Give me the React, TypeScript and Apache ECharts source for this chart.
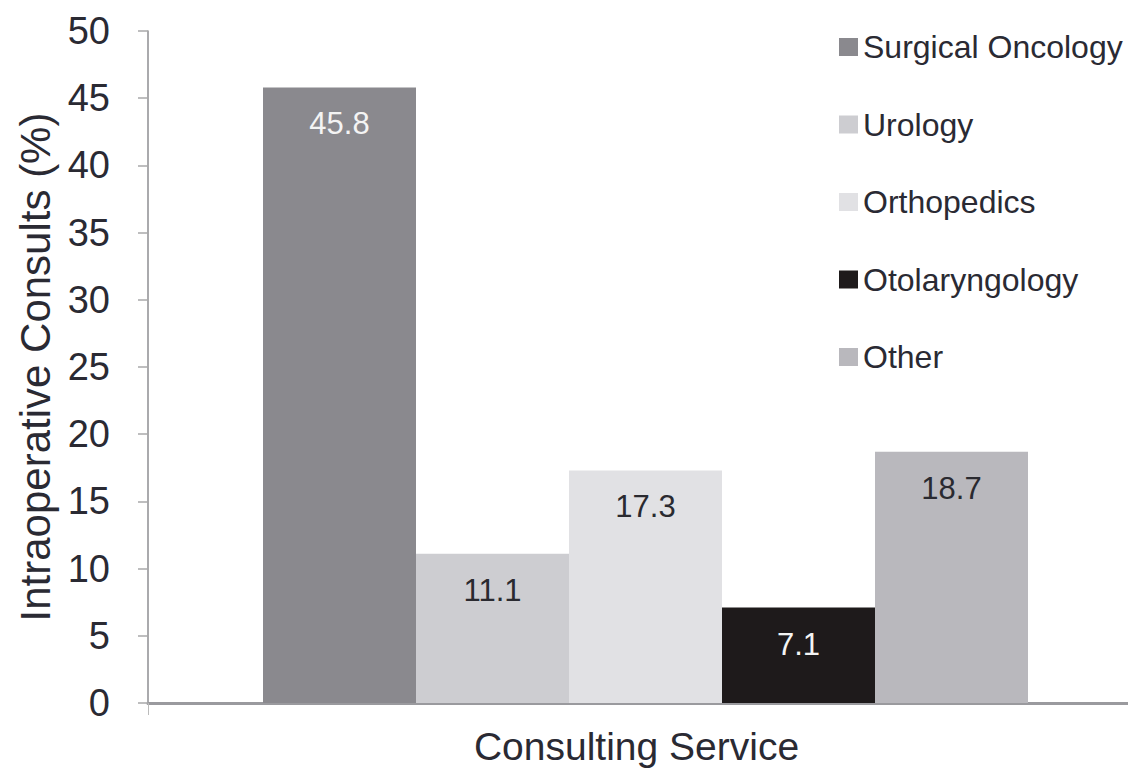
import React, { useEffect, useRef } from "react";
import * as echarts from "echarts";

const categories = ["Consulting Service"];
const seriesNames = ["Surgical Oncology", "Urology", "Orthopedics", "Otolaryngology", "Other"];
const seriesValues = [45.8, 11.1, 17.3, 7.1, 18.7];
const seriesColors = ["#8a898e", "#cdcdd1", "#e1e1e4", "#1e1a1b", "#b9b8bd"];
const labelColors = ["#f4f4f4", "#2a2a30", "#2a2a30", "#f4f4f4", "#2a2a30"];
const yTicks = [0, 5, 10, 15, 20, 25, 30, 35, 40, 45, 50];

const FONT = "Liberation Sans, Arial, sans-serif";

export default function App() {
  const ref = useRef<HTMLDivElement>(null);
  useEffect(() => {
    if (!ref.current) return;
    const chart = echarts.init(ref.current, undefined, { renderer: "svg" });
    chart.setOption({
      animation: false,
      backgroundColor: "#ffffff",
      textStyle: { fontFamily: FONT },
      grid: { left: 148, top: 31, bottom: 72, right: -15, containLabel: false, outerBoundsMode: "none" },
      legend: {
        orient: "vertical",
        left: 834,
        top: 25,
        itemWidth: 19,
        itemHeight: 18,
        itemGap: 43.5,
        icon: "rect",
        data: seriesNames,
        textStyle: { fontSize: 32, color: "#2a2a33", fontFamily: FONT, lineHeight: 34 },
      },
      xAxis: {
        type: "category",
        data: categories,
        name: categories[0],
        nameLocation: "middle",
        nameGap: 24,
        nameTextStyle: { fontSize: 39, color: "#2a2a33", fontFamily: FONT, padding: [0, 18, 0, 0] },
        axisLabel: { show: false },
        axisLine: { lineStyle: { color: "#9a9a9e", width: 3 } },
        axisTick: { show: true, length: 12, lineStyle: { color: "#bbbbbb" } },
      },
      yAxis: {
        type: "value",
        min: 0,
        max: 50,
        interval: 5,
        name: "Intraoperative Consults (%)",
        nameLocation: "middle",
        nameGap: 88,
        nameTextStyle: { fontSize: 42, color: "#2a2a33", fontFamily: FONT },
        axisLine: { show: true, lineStyle: { color: "#8e8e92", width: 1.5 } },
        axisTick: { show: true, inside: false, length: 10, lineStyle: { color: "#a8a8aa", width: 1.5 } },
        splitLine: { show: false },
        axisLabel: {
          margin: 38,
          fontSize: 38,
          color: "#2a2a33",
          fontFamily: FONT,
          formatter: (v: number) => (yTicks.includes(v) ? String(v) : ""),
        },
      },
      series: seriesNames.map((name, i) => ({
        name,
        type: "bar",
        barWidth: 153,
        barGap: "0%",
        data: [seriesValues[i]],
        itemStyle: { color: seriesColors[i] },
        label: {
          show: true,
          position: "insideTop",
          distance: 21,
          fontSize: 31,
          color: labelColors[i],
          fontFamily: FONT,
          formatter: (p: any) => Number(p.value).toFixed(1),
        },
      })),
    });
    return () => chart.dispose();
  }, []);
  return (
    <div
      ref={ref}
      style={{ position: "fixed", left: 0, top: 0, width: 1128, height: 775 }}
    />
  );
}
